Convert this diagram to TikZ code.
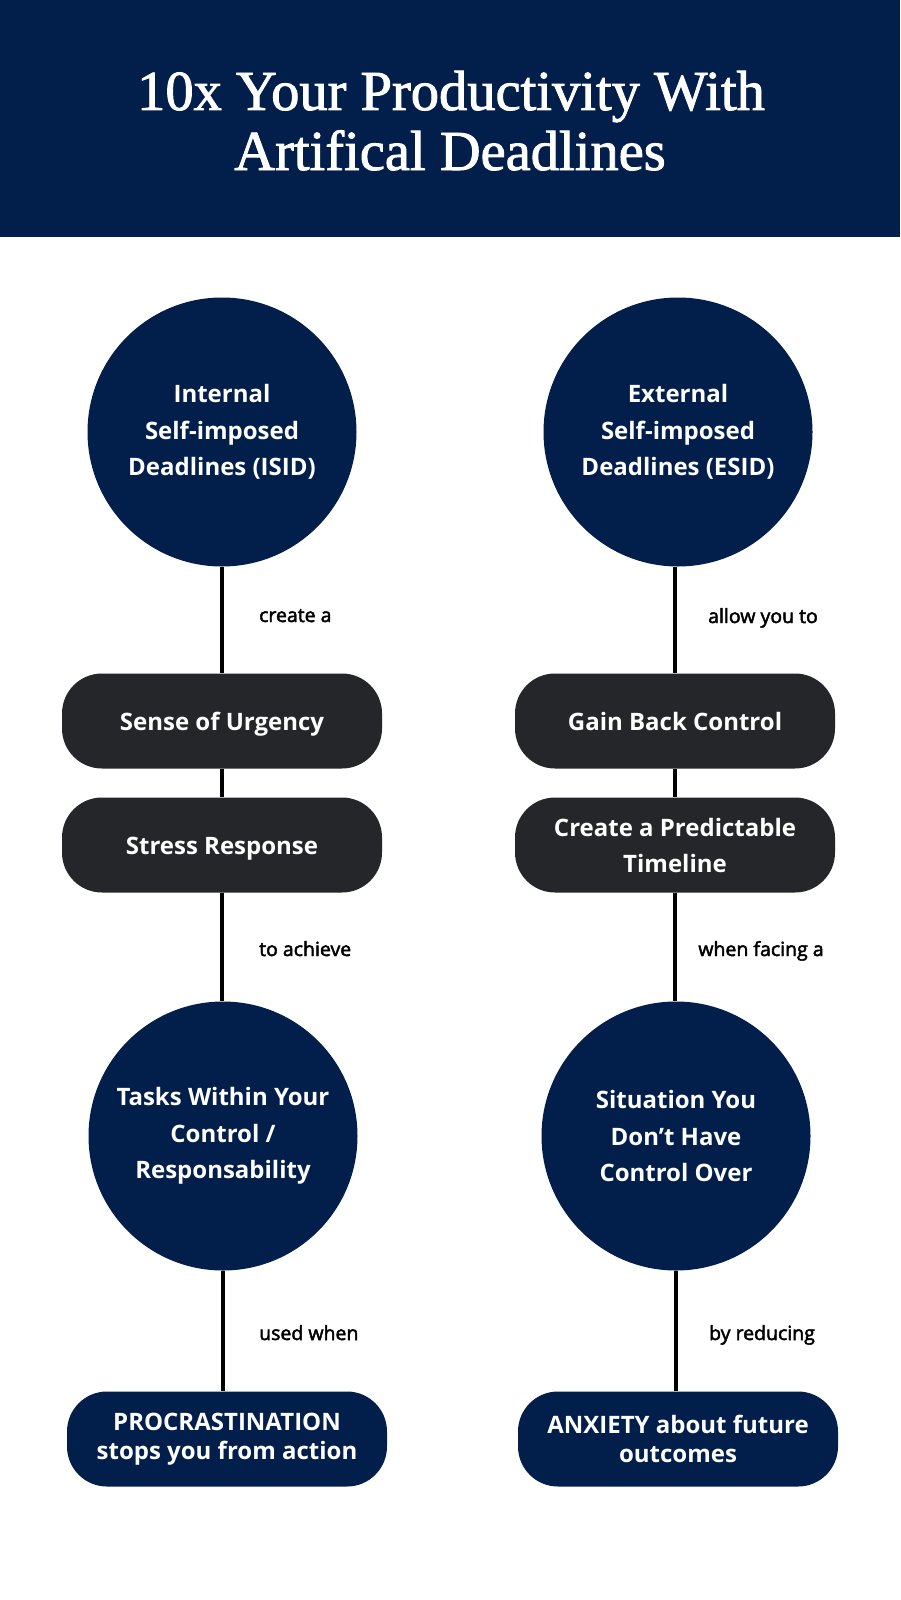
\documentclass[tikz,border=0pt]{standalone}
\usepackage{fontspec}
\setmainfont{Open Sans}
\newfontfamily\titlefont[FakeBold=1.6]{Liberation Serif}
\newfontfamily\labelfont[FakeBold=2.4]{Open Sans}
\definecolor{navy}{HTML}{021E4A}
\definecolor{pilldark}{HTML}{25262A}
\begin{document}
\begin{tikzpicture}[x=1pt,y=-1pt,
  circ/.style={circle, fill=navy, text=white, minimum size=269pt, inner sep=0pt, align=center, font=\bfseries\fontsize{24}{36.7}\selectfont},
  pill/.style={rectangle, rounded corners=40pt, fill=pilldark, text=white, minimum width=320pt, minimum height=95pt, inner sep=0pt, align=center, font=\bfseries\fontsize{24}{36}\selectfont},
  oneline/.style={text height=18pt, text depth=0pt},
  navypill/.style={pill, fill=navy, font=\bfseries\fontsize{24}{29}\selectfont},
  lbl/.style={font=\labelfont\fontsize{19.5}{22}\selectfont, text=black, inner sep=0pt},
  ttl/.style={font=\titlefont\fontsize{56.5}{60}\selectfont, text=white, inner sep=0pt},
  conn/.style={draw=black, line width=3.2pt}]
\useasboundingbox (0,0) rectangle (900,1600);
\fill[white] (0,0) rectangle (900,1600);
\node[fill=navy, minimum width=900pt, minimum height=237pt, anchor=north west, inner sep=0pt] (header) at (0,0) {};
\node[ttl, anchor=base] (title1) at (451,110) {10x Your Productivity With};
\node[ttl, anchor=base] (title2) at (450,170) {Artifical Deadlines};

\node[circ] (isid) at (222,432) {Internal\\Self-imposed\\Deadlines (ISID)};
\node[circ] (esid) at (678,432) {External\\Self-imposed\\Deadlines (ESID)};
\node[pill, oneline] (urg) at (222,721) {Sense of Urgency};
\node[pill, oneline] (gain) at (675,721) {Gain Back Control};
\node[pill, oneline] (stress) at (222,845) {Stress Response};
\node[pill] (timeline) at (675,845) {Create a Predictable\\Timeline};
\node[circ] (tasks) at (223,1136) {Tasks Within Your\\Control /\\Responsability};
\node[circ] (situ) at (676,1136) {Situation You\\Don’t Have\\Control Over};
\node[navypill] (procr) at (227,1439) {PROCRASTINATION\\stops you from action};
\node[navypill] (anx) at (678,1439) {ANXIETY about future\\outcomes};

\draw[conn] (isid.south) -- (isid.south |- urg.north);
\draw[conn] (urg.south) -- (stress.north);
\draw[conn] (stress.south) -- (stress.south |- tasks.north);
\draw[conn] (tasks.south) -- (tasks.south |- procr.north);
\draw[conn] (gain.north |- esid.south) -- (gain.north);
\draw[conn] (gain.south) -- (timeline.north);
\draw[conn] (timeline.south) -- (timeline.south |- situ.north);
\draw[conn] (situ.south) -- (situ.south |- anx.north);

\node[lbl, anchor=base west] (l1) at (259,622) {create a};
\node[lbl, anchor=base] (r1) at (763,623) {allow you to};
\node[lbl, anchor=base west] (l2) at (259,956) {to achieve};
\node[lbl, anchor=base] (r2) at (761,956) {when facing a};
\node[lbl, anchor=base west] (l3) at (259,1340) {used when};
\node[lbl, anchor=base] (r3) at (762,1340) {by reducing};
\end{tikzpicture}
\end{document}
